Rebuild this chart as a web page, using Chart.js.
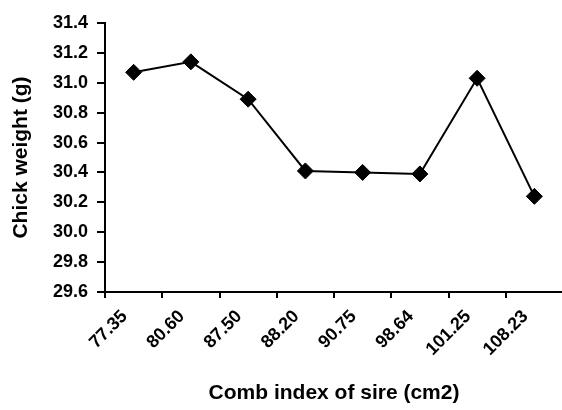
<!DOCTYPE html>
<html>
<head>
<meta charset="utf-8">
<script src="https://cdn.jsdelivr.net/npm/chart.js@4/dist/chart.umd.min.js"></script>
<style>
html, body { margin:0; padding:0; overflow:hidden; background:#fff; }
#wrap { position:relative; width:572px; height:410px; }
</style>
</head>
<body>
<div id="wrap"><canvas id="c"></canvas></div>
<script>
const categories = ["77.35","80.60","87.50","88.20","90.75","98.64","101.25","108.23"];
const chickWeight = [31.07, 31.14, 30.89, 30.41, 30.40, 30.39, 31.03, 30.24];
const yTicks = [29.6, 29.8, 30.0, 30.2, 30.4, 30.6, 30.8, 31.0, 31.2, 31.4];
const xTitle = "Comb index of sire (cm2)";
const yTitle = "Chick weight (g)";

const FONT = "'Liberation Sans', Arial, sans-serif";
new Chart(document.getElementById('c'), {
  type: 'line',
  data: {
    labels: categories,
    datasets: [{
      data: chickWeight,
      borderColor: '#000',
      backgroundColor: '#000',
      borderWidth: 2,
      pointStyle: 'rectRot',
      pointRadius: 8,
      pointBorderWidth: 1,
      pointBackgroundColor: '#000',
      pointBorderColor: '#000',
      tension: 0,
      fill: false
    }]
  },
  options: {
    responsive: true,
    maintainAspectRatio: false,
    animation: false,
    devicePixelRatio: 1,
    layout: { padding: { top: 23, right: 0, bottom: 0, left: 0 } },
    plugins: { legend: { display: false }, tooltip: { enabled: false } },
    scales: {
      x: {
        offset: true,
        grid: { offset: true, drawOnChartArea: false, drawTicks: true, tickLength: 6, color: '#000', lineWidth: 2 },
        border: { display: true, color: '#000', width: 2 },
        ticks: { color: '#000', font: { family: FONT, size: 18, weight: 'bold' }, minRotation: 45, maxRotation: 45, padding: 8, labelOffset: -9, autoSkip: false },
        title: { display: true, text: xTitle, color: '#000', font: { family: FONT, size: 21, weight: 'bold' }, padding: { top: 4, bottom: 4 } },
        afterFit: (s) => { s.height = 118; }
      },
      y: {
        min: yTicks[0],
        max: yTicks[yTicks.length - 1],
        afterBuildTicks: (s) => { s.ticks = yTicks.map(v => ({ value: v })); },
        grid: { drawOnChartArea: false, drawTicks: true, tickLength: 8, color: '#000', lineWidth: 2 },
        border: { display: true, color: '#000', width: 2 },
        ticks: { color: '#000', font: { family: FONT, size: 18, weight: 'bold' }, padding: 9, callback: (v) => Number(v).toFixed(1) },
        title: { display: true, text: yTitle, color: '#000', font: { family: FONT, size: 21, weight: 'bold' }, padding: { top: 9, bottom: 4 } },
        afterFit: (s) => { s.width = 105; }
      }
    }
  }
});
</script>
</body>
</html>
